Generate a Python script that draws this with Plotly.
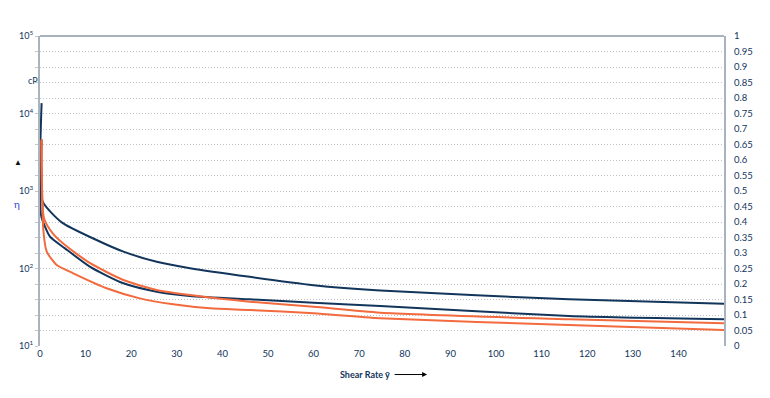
import plotly.graph_objects as go

# ---- data ----
navy1_x = [0.35, 0.02, 0.59, 4.76, 12.4, 18.3, 25.6, 32.9, 46, 60, 74.6, 116, 150]
navy1_y = [13600, 2100, 728, 394, 233, 165, 122, 101, 78, 61, 52, 40, 35]

navy2_x = [0.37, 0.02, 0.3, 2.19, 5.48, 11.0, 18.3, 25.6, 32.9, 46, 60, 74.6, 116, 150]
navy2_y = [4550, 766, 466, 257, 182, 105, 64.4, 50.2, 44.2, 40, 36.2, 32.8, 24.4, 22.1]

orange1_x = [0.37, 0.88, 2.79, 5.48, 11.0, 18.3, 25.6, 32.9, 46, 60, 74.6, 116, 150]
orange1_y = [4700, 444, 284, 201, 117, 71, 52.8, 45.5, 37.3, 32, 26.9, 22.1, 19.6]

orange2_x = [0.3, 0.73, 1.47, 3.66, 7.3, 14.6, 21.9, 29.2, 37.3, 46, 60, 74.6, 116, 150]
orange2_y = [4500, 314, 165, 111, 86.7, 55.6, 41.2, 34.5, 30.6, 29.2, 26.4, 22.8, 18.7, 16.1]

x_ticks = [0, 10, 20, 30, 40, 50, 60, 70, 80, 90, 100, 110, 120, 130, 140]
left_tick_vals = [10 ** (1 + 0.2 * k) for k in range(21)]
left_tick_text = ["" if k % 5 else "10<sup>%d</sup>" % (1 + k // 5) for k in range(21)]
right_tick_vals = [round(0.05 * k, 2) for k in range(21)]
right_tick_text = ["0" if v == 0 else ("1" if v == 1 else ("%g" % v)) for v in right_tick_vals]

NAVY = "#12355b"
ORANGE = "#f26a3d"
GREY = "#a9b3bd"
FONT = "Lato"

fig = go.Figure()
for xs, ys, c in [(navy1_x, navy1_y, NAVY), (navy2_x, navy2_y, NAVY),
                  (orange1_x, orange1_y, ORANGE), (orange2_x, orange2_y, ORANGE)]:
    fig.add_trace(go.Scatter(x=xs, y=ys, mode="lines",
                             line=dict(color=c, width=2, shape="spline", smoothing=0.6),
                             showlegend=False, hoverinfo="skip"))
# dummy trace to activate right axis
fig.add_trace(go.Scatter(x=[None], y=[None], yaxis="y2", showlegend=False))

fig.update_layout(
    width=754, height=382,
    margin=dict(l=32, r=38, t=28, b=44),
    paper_bgcolor="white", plot_bgcolor="white",
    font=dict(family=FONT, color=NAVY, size=9),
    xaxis=dict(range=[0, 150], tickvals=x_ticks, showgrid=False, zeroline=False,
               showline=False, ticks="", automargin=False,
               tickfont=dict(size=9.5, color=NAVY)),
    yaxis=dict(type="log", range=[1, 5], tickvals=left_tick_vals, ticktext=left_tick_text,
               showgrid=True, gridcolor="#bfc4c9", griddash="1px,2px", gridwidth=1,
               ticks="outside", ticklen=3, tickcolor="#c4c8cc", automargin=False,
               showline=True, linecolor=GREY, linewidth=2, zeroline=False,
               tickfont=dict(size=9, color=NAVY)),
    yaxis2=dict(overlaying="y", side="right", range=[0, 1], tickvals=right_tick_vals,
                ticktext=right_tick_text, showgrid=False, zeroline=False, automargin=False,
                showline=True, linecolor=GREY, linewidth=2, ticks="",
                ticklabelstandoff=6,
                tickfont=dict(size=9.5, color=NAVY)),
)

fig.add_shape(type="line", xref="paper", yref="paper", x0=0, x1=1, y0=1, y1=1,
              line=dict(color=GREY, width=2))

fig.add_annotation(text="<b>Shear Rate ȳ</b>", xref="paper", yref="paper",
                   x=0.475, y=-0.092, showarrow=False, yanchor="middle",
                   font=dict(size=9, color=NAVY, family=FONT))
fig.add_annotation(x=0.566, y=-0.092, ax=-34, ay=0, xref="paper", yref="paper",
                   text="", showarrow=True,
                   arrowhead=2, arrowsize=1, arrowwidth=1, arrowcolor="black")
fig.add_annotation(text="cP", xref="paper", yref="paper", x=-0.020, y=0.88,
                   showarrow=False, font=dict(size=9, color=NAVY, family=FONT))
fig.add_annotation(text="▲", xref="paper", yref="paper", x=-0.041, y=0.594,
                   showarrow=False, font=dict(size=8, color="#111111", family=FONT))
fig.add_annotation(text="η", xref="paper", yref="paper", x=-0.041, y=0.458,
                   showarrow=False, font=dict(size=10, color="#2a3fd6", family=FONT))

fig.write_html("out.html")
